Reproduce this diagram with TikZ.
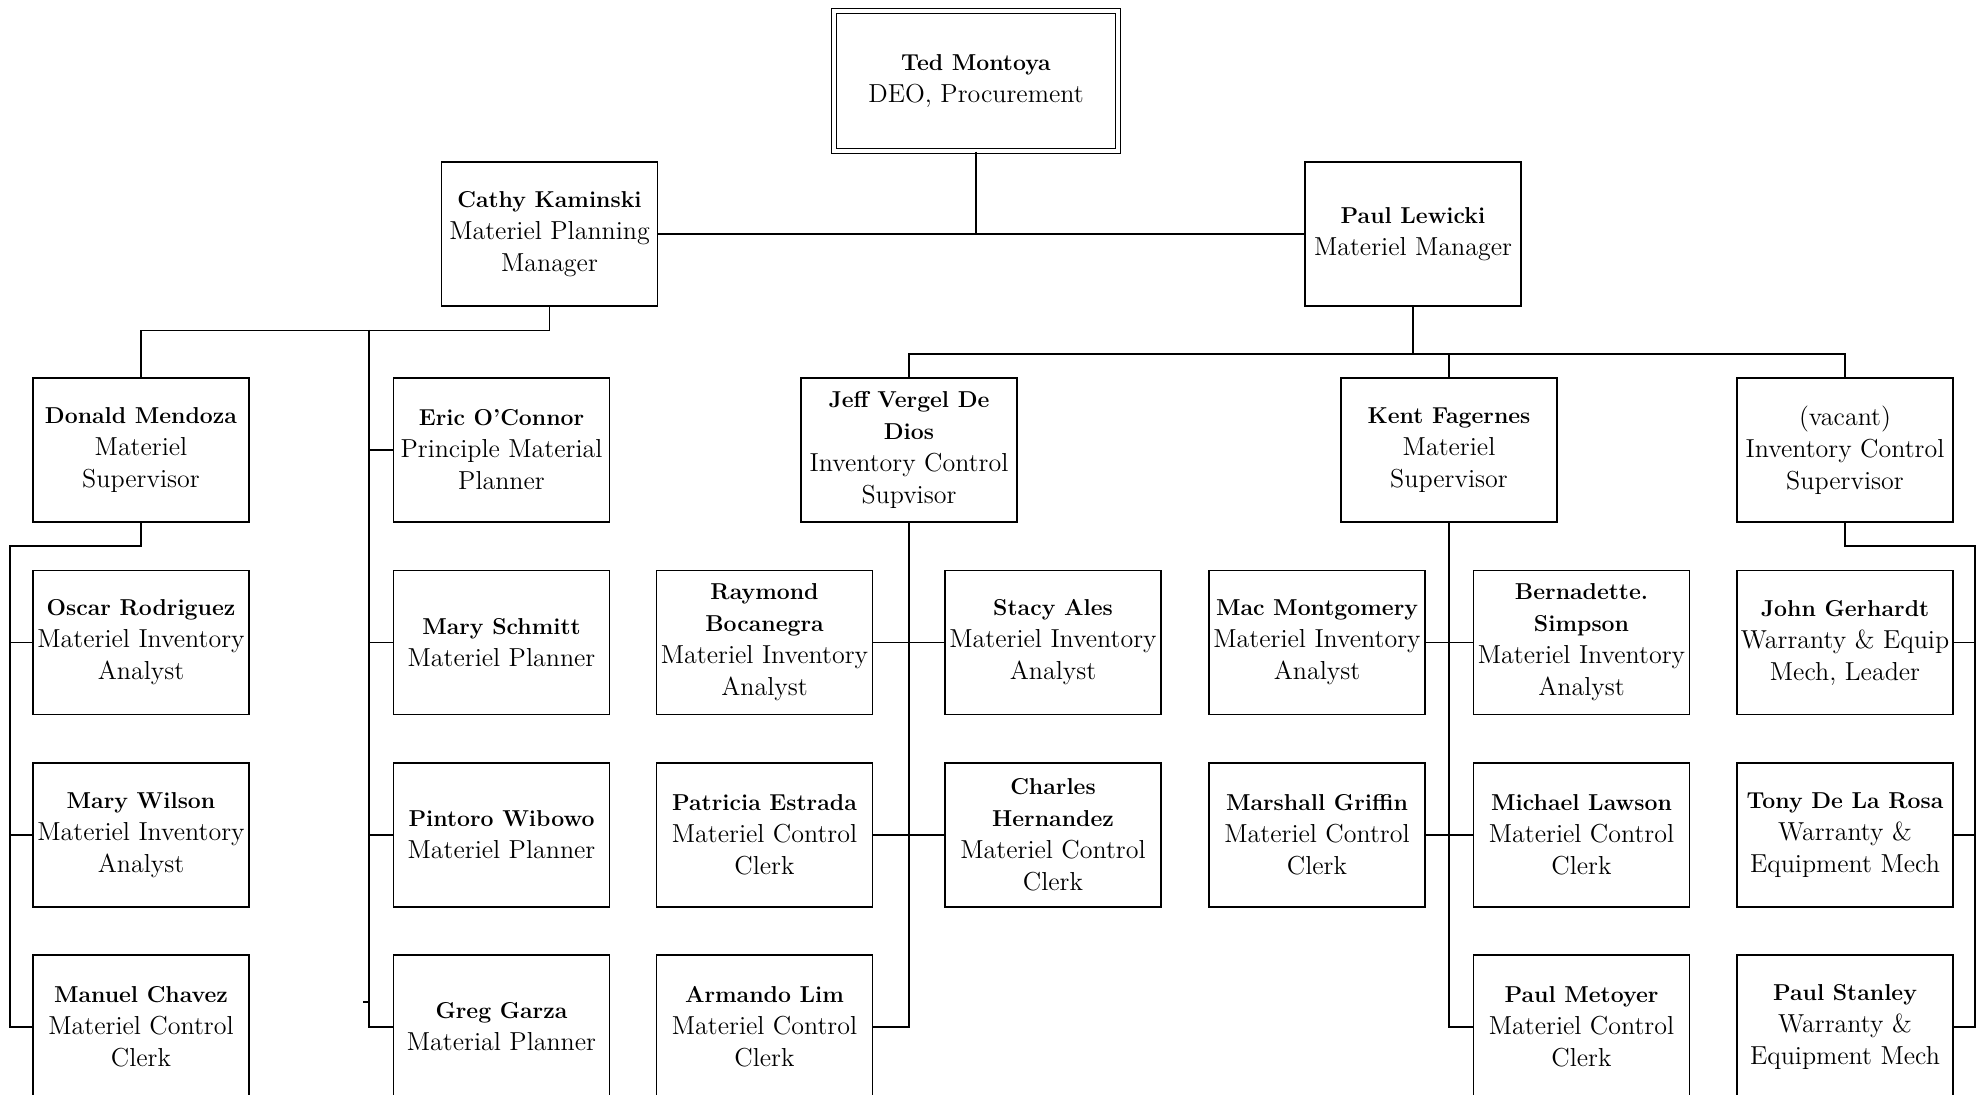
\documentclass[tikz,border=0pt]{standalone}
\usepackage{tikz}
\usetikzlibrary{positioning, calc}

\newcommand{\pname}[1]{{\fontsize{11.5}{16}\selectfont\bfseries #1}}

\tikzset{
	person/.style={draw, rectangle, line width=0.7pt, minimum height=72pt, minimum width=108pt,
		inner sep=1pt, align=center, font=\fontsize{13}{16}\selectfont},
	head/.style={person, double, double distance=1.6pt, line width=0.6pt, minimum height=70pt,
		minimum width=142pt},
	link/.style={line width=0.7pt}
}

\begin{document}
\begin{tikzpicture}[x=0.5pt, y=-0.5pt]
		\useasboundingbox (0,0) rectangle (1983,1095);
		\clip (0,0) rectangle (1983,1095);
		
		\node (Ted Montoya) at (976,81) [head]{\pname{Ted Montoya}\\DEO, Procurement};
		
		\node (Cathy Kaminski) at (549.5,234) [person]{\pname{Cathy Kaminski}\\Materiel Planning\\Manager};
		\node (Paul Lewicki) at (1413,234) [person]{\pname{Paul Lewicki}\\Materiel Manager};
		
		% planning side
		\node (Donald Mendoza) at (141,450) [person]{\pname{Donald Mendoza}\\Materiel\\Supervisor};
		\node (Oscar Rodriguez) at (141,642.5) [person]{\pname{Oscar Rodriguez}\\Materiel Inventory\\Analyst};
		\node (Mary Wilson) at (141,835) [person]{\pname{Mary Wilson}\\Materiel Inventory\\Analyst};
		\node (Manuel Chavez) at (141,1027) [person]{\pname{Manuel Chavez}\\Materiel Control\\Clerk};
		
		\node (Eric Oconnor) at (501.5,450) [person]{\pname{Eric O'Connor}\\Principle Material\\Planner};
		\node (Mary Schmitt) at (501.5,642.5) [person]{\pname{Mary Schmitt}\\Materiel Planner};
		\node (Pintoro Wibowo) at (501.5,835) [person]{\pname{Pintoro Wibowo}\\Materiel Planner};
		\node (Greg Garza) at (501.5,1027) [person]{\pname{Greg Garza}\\Material Planner};
		
		% materiel side
		\node (Jeff Vergel) at (909,450) [person]{\pname{Jeff Vergel De}\\\pname{Dios}\\Inventory Control\\Supvisor};
		\node (Raymond Bocanegra) at (764.5,642.5) [person]{\pname{Raymond}\\\pname{Bocanegra}\\Materiel Inventory\\Analyst};
		\node (Patricia Estrada) at (764.5,835) [person]{\pname{Patricia Estrada}\\Materiel Control\\Clerk};
		\node (Armando Lim) at (764.5,1027) [person]{\pname{Armando Lim}\\Materiel Control\\Clerk};
		\node (Stacy Ales) at (1053,642.5) [person]{\pname{Stacy Ales}\\Materiel Inventory\\Analyst};
		\node (Charles Hernandez) at (1053,835) [person]{\pname{Charles}\\\pname{Hernandez}\\Materiel Control\\Clerk};
		
		\node (Kent Fagernes) at (1449,450) [person]{\pname{Kent Fagernes}\\Materiel\\Supervisor};
		\node (Mac Montgomery) at (1317,642.5) [person]{\pname{Mac Montgomery}\\Materiel Inventory\\Analyst};
		\node (Marshall Griffin) at (1317,835) [person]{\pname{Marshall Griffin}\\Materiel Control\\Clerk};
		\node (Bernadette Simpson) at (1581.5,642.5) [person]{\pname{Bernadette.}\\\pname{Simpson}\\Materiel Inventory\\Analyst};
		\node (Michael Lawson) at (1581.5,835) [person]{\pname{Michael Lawson}\\Materiel Control\\Clerk};
		\node (Paul Metoyer) at (1581.5,1027) [person]{\pname{Paul Metoyer}\\Materiel Control\\Clerk};
		
		\node (Vacant) at (1845,450) [person]{(vacant)\\Inventory Control\\Supervisor};
		\node (John Gerhardt) at (1845,642.5) [person]{\pname{John Gerhardt}\\Warranty \& Equip\\Mech, Leader};
		\node (Tony De La Rosa) at (1845,835) [person]{\pname{Tony De La Rosa}\\Warranty \&\\Equipment Mech};
		\node (Paul Stanley) at (1845,1027) [person]{\pname{Paul Stanley}\\Warranty \&\\Equipment Mech};
		
		\coordinate (planner bus) at (369,330);
		\coordinate (donald bus) at (10,546);
		\coordinate (paul bus) at (1413,354);
		\coordinate (vacant bus) at (1975,546);
		
		\draw[link] (Ted Montoya.south) -- (Ted Montoya.south |- Cathy Kaminski.east);
		\draw[link] (Cathy Kaminski.east) -- (Paul Lewicki.west);
		
		\draw[link] (Cathy Kaminski.south) -- ++(0,24) -| (Donald Mendoza.north);
		\draw[link] (planner bus) |- (Greg Garza.west);
		\foreach \n in {Eric Oconnor, Mary Schmitt, Pintoro Wibowo}
			\draw[link] (planner bus |- \n.west) -- (\n.west);
		\draw[link] (planner bus |- Greg Garza.west) ++(0,-25) -- ++(-6,0);
		
		\draw[link] (Donald Mendoza.south) |- (donald bus) |- (Manuel Chavez.west);
		\foreach \n in {Oscar Rodriguez, Mary Wilson}
			\draw[link] (donald bus |- \n.west) -- (\n.west);
		
		\draw[link] (Paul Lewicki.south) -- (paul bus);
		\draw[link] (Jeff Vergel.north) -- (Jeff Vergel.north |- paul bus) -- (Vacant.north |- paul bus) -- (Vacant.north);
		\draw[link] (Kent Fagernes.north) -- (Kent Fagernes.north |- paul bus);
		
		\draw[link] (Jeff Vergel.south) |- (Armando Lim.east);
		\draw[link] (Raymond Bocanegra.east) -- (Stacy Ales.west);
		\draw[link] (Patricia Estrada.east) -- (Charles Hernandez.west);
		
		\draw[link] (Kent Fagernes.south) |- (Paul Metoyer.west);
		\draw[link] (Mac Montgomery.east) -- (Bernadette Simpson.west);
		\draw[link] (Marshall Griffin.east) -- (Michael Lawson.west);
		
		\draw[link] (Vacant.south) |- (vacant bus) |- (Paul Stanley.east);
		\foreach \n in {John Gerhardt, Tony De La Rosa}
			\draw[link] (vacant bus |- \n.east) -- (\n.east);
\end{tikzpicture}
\end{document}
